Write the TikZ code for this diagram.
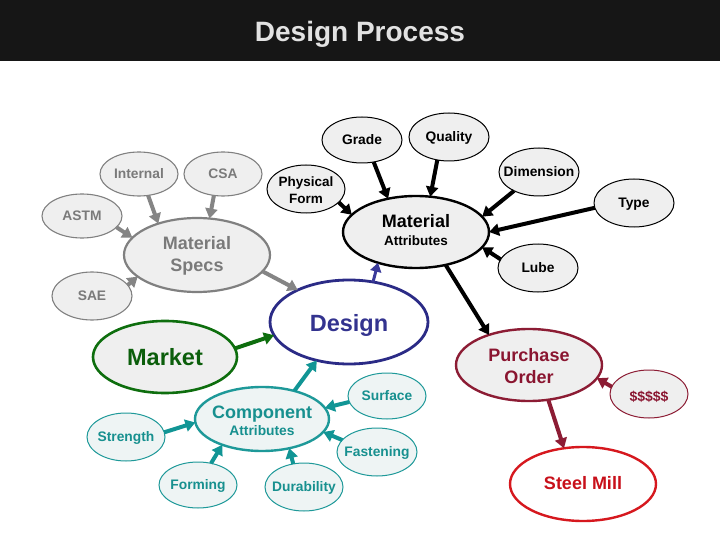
\documentclass[tikz,border=0pt]{standalone}
\usepackage{fontspec}
\setmainfont{Liberation Sans}
\usetikzlibrary{shapes.geometric,arrows.meta}
\definecolor{titleBg}{HTML}{161616}
\definecolor{titleT}{HTML}{E2E2E2}
\definecolor{nodeF}{HTML}{EFEFEF}
\definecolor{grayB}{HTML}{808080}
\definecolor{grayT}{HTML}{7A7A7A}
\definecolor{grayA}{HTML}{858585}
\definecolor{navyB}{HTML}{2B2B86}
\definecolor{navyT}{HTML}{33338F}
\definecolor{navyA}{HTML}{3A3A9A}
\definecolor{greenB}{HTML}{0E6E0E}
\definecolor{greenT}{HTML}{0B5E0B}
\definecolor{tealB}{HTML}{1E9999}
\definecolor{tealT}{HTML}{17908F}
\definecolor{tealA}{HTML}{119595}
\definecolor{tealF}{HTML}{EEF4F4}
\definecolor{wineB}{HTML}{8C1C34}
\definecolor{wineT}{HTML}{8A1530}
\definecolor{redB}{HTML}{D6181E}
\definecolor{redT}{HTML}{C8101A}
\tikzset{
  base/.style={ellipse, inner sep=0pt, outer sep=0pt},
  esz/.style 2 args={minimum width=#1pt, minimum height=#2pt},
  graynode/.style={base, draw=grayB, fill=nodeF, line width=1.1pt},
  graybig/.style={base, draw=grayB, fill=nodeF, line width=2.2pt},
  blknode/.style={base, draw=black, fill=nodeF, line width=1pt},
  blkbig/.style={base, draw=black, fill=nodeF, line width=2.4pt},
  designnode/.style={base, draw=navyB, fill=white, line width=2.8pt},
  marketnode/.style={base, draw=greenB, fill=nodeF, line width=2.6pt},
  tealnode/.style={base, draw=tealB, fill=tealF, line width=1pt},
  tealbig/.style={base, draw=tealB, fill=tealF, line width=2.4pt},
  ponode/.style={base, draw=wineB, fill=nodeF, line width=2.4pt},
  moneynode/.style={base, draw=wineB, fill=nodeF, line width=1pt},
  millnode/.style={base, draw=redB, fill=white, line width=2.4pt},
  txt/.style={inner sep=0pt, text depth=0pt},
  fs/.style={font=\fontsize{#1pt}{#1pt}\selectfont\bfseries, text height=0.716*#1pt},
  arr/.style={line width=4pt, -{Triangle[length=10pt,width=12pt]}},
  arrthin/.style={line width=3pt, -{Triangle[length=9pt,width=11pt]}},
}
\begin{document}
\begin{tikzpicture}[x=1pt,y=-1pt]
\useasboundingbox (0,0) rectangle (720,540);
\fill[white] (0,0) rectangle (720,540);
\fill[titleBg] (0,0) rectangle (720,61);
\node[txt,fs=28,text=titleT] (title) at (360,31) {Design Process};

% gray group
\node[graynode, esz={78}{44}] (int) at (139,174) {};
\node[txt,fs=13.8,text=grayT] (intT) at (int) {Internal};
\node[graynode, esz={78}{44}] (csa) at (223,174) {};
\node[txt,fs=13.8,text=grayT] (csaT) at (csa) {CSA};
\node[graynode, esz={80}{44}] (astm) at (82,216) {};
\node[txt,fs=13.8,text=grayT] (astmT) at (astm) {ASTM};
\node[graynode, esz={80}{48}] (sae) at (92,296) {};
\node[txt,fs=13.8,text=grayT] (saeT) at (sae) {SAE};
\node[graybig, esz={146}{74}] (ms) at (197,255) {};
\node[txt,fs=18,text=grayT] (msT1) at (197,243) {Material};
\node[txt,fs=18,text=grayT] (msT2) at (197,265) {Specs};

% black group
\node[blknode, esz={78}{48}] (phys) at (306,189) {};
\node[txt,fs=13.5] (physT1) at (306,182) {Physical};
\node[txt,fs=13.5] (physT2) at (306,199) {Form};
\node[blknode, esz={80}{46}] (grade) at (362,140) {};
\node[txt,fs=13.8] (gradeT) at (grade) {Grade};
\node[blknode, esz={80}{48}] (qual) at (449,137) {};
\node[txt,fs=13.8] (qualT) at (qual) {Quality};
\node[blknode, esz={80}{48}] (dim) at (539,172) {};
\node[txt,fs=13.8] (dimT) at (dim) {Dimension};
\node[blknode, esz={80}{48}] (type) at (634,203) {};
\node[txt,fs=13.8] (typeT) at (type) {Type};
\node[blknode, esz={80}{48}] (lube) at (538,268) {};
\node[txt,fs=13.8] (lubeT) at (lube) {Lube};
\node[blkbig, esz={146}{72}] (ma) at (416,232) {};
\node[txt,fs=18] (maT1) at (416,221) {Material};
\node[txt,fs=13.5] (maT2) at (416,241) {Attributes};

% design and market
\node[designnode, esz={158}{84}] (design) at (349,322) {};
\node[txt,fs=23.5,text=navyT] (designT) at (349,323) {Design};
\node[marketnode, esz={144}{72}] (market) at (165,357) {};
\node[txt,fs=23.5,text=greenT] (marketT) at (165,357) {Market};

% teal group
\node[tealbig, esz={134}{64}] (comp) at (262,419) {};
\node[txt,fs=18,text=tealT] (compT1) at (262,412) {Component};
\node[txt,fs=13.8,text=tealT] (compT2) at (262,431) {Attributes};
\node[tealnode, esz={78}{46}] (surf) at (387,396) {};
\node[txt,fs=13.8,text=tealT] (surfT) at (surf) {Surface};
\node[tealnode, esz={80}{48}] (fast) at (377,452) {};
\node[txt,fs=13.8,text=tealT] (fastT) at (fast) {Fastening};
\node[tealnode, esz={78}{48}] (dur) at (304,487) {};
\node[txt,fs=13.8,text=tealT] (durT) at (dur) {Durability};
\node[tealnode, esz={78}{46}] (form) at (198,485) {};
\node[txt,fs=13.8,text=tealT] (formT) at (form) {Forming};
\node[tealnode, esz={78}{48}] (str) at (126,437) {};
\node[txt,fs=13.8,text=tealT] (strT) at (str) {Strength};

% red group
\node[ponode, esz={146}{72}] (po) at (529,365) {};
\node[txt,fs=18,text=wineT] (poT1) at (529,355) {Purchase};
\node[txt,fs=18,text=wineT] (poT2) at (529,377) {Order};
\node[moneynode, esz={78}{48}] (money) at (649,394) {};
\node[txt,fs=14,text=wineT] (moneyT) at (649,396) {\$\$\$\$\$};
\node[millnode, esz={146}{74}] (sm) at (583,484) {};
\node[txt,fs=18,text=redT] (smT) at (583,483) {Steel Mill};

% connectors
\draw[arr,grayA] (int.-67) -- (ms.141);
\draw[arr,grayA] (csa.-113) -- (ms.71);
\draw[arr,grayA] (astm.-18) -- (ms.165);
\draw[arr,grayA] (sae.17) -- (ms.200);
\draw[arr,grayA] (ms.-14) -- (design.148);

\draw[arr,black] (phys.-22) -- (ma.165);
\draw[arr,black] (grade.-62) -- (ma.130);
\draw[arr,black] (qual.-117) -- (ma.68);
\draw[arr,black] (dim.-143) -- (ma.13);
\draw[arr,black] (type.-173) -- (ma.0);
\draw[arr,black] (lube.167) -- (ma.-13);
\draw[arr,black] (ma.-48) -- (po.143);

\draw[arrthin,navyA] (design.59) -- (ma.-141);
\draw[arr,greenB] (market.7) -- (design.-170);

\draw[arr,tealA] (comp.41) -- (design.-130);
\draw[arr,tealA] (surf.-171) -- (comp.10);
\draw[arr,tealA] (fast.161) -- (comp.-12);
\draw[arr,tealA] (dur.115) -- (comp.-47);
\draw[arr,tealA] (form.59) -- (comp.-147);
\draw[arr,tealA] (str.7) -- (comp.-177);

\draw[arr,wineB] (money.169) -- (po.-11);
\draw[arr,wineB] (po.-61) -- (sm.118);
\end{tikzpicture}
\end{document}
